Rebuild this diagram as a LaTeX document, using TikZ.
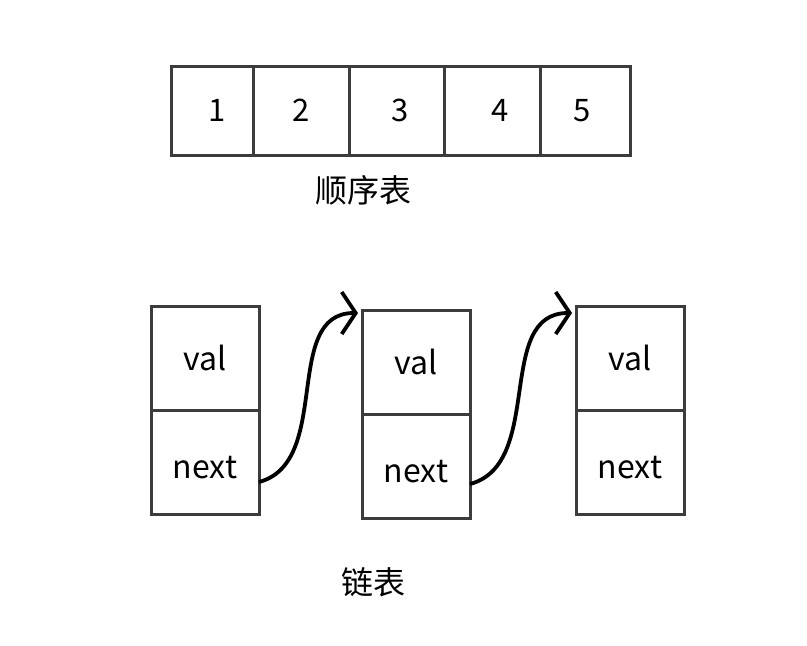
\documentclass[tikz,border=0pt]{standalone}
\usepackage{fontspec}
\setmainfont{Noto Sans CJK SC}
\usetikzlibrary{arrows.meta}
\definecolor{boxgray}{HTML}{3C3C3C}

\tikzset{
  cell/.style={draw=boxgray, line width=3pt, minimum height=89pt, inner sep=0pt, outer sep=0pt, font=\fontsize{31}{36}\selectfont},
  half/.style={draw=boxgray, line width=3pt, minimum width=108pt, minimum height=104pt, inner sep=0pt, outer sep=0pt, font=\fontsize{32}{38}\selectfont},
  lower/.style={half, text height=33pt},
  caption/.style={inner sep=0pt, font=\fontsize{32}{38}\selectfont},
  link/.style={line width=3.8pt, -{Straight Barb[length=14pt,width=42pt]}}
}

\begin{document}
\begin{tikzpicture}[x=1pt, y=-1pt]
  \useasboundingbox (0,0) rectangle (807,646);
  \node[cell, minimum width=82pt] (c1) at (212,110.5) {\hspace*{10pt}1};
  \node[cell, minimum width=96pt] (c2) at (301,110.5) {2};
  \node[cell, minimum width=95pt] (c3) at (396.5,110.5) {\hspace*{7pt}3};
  \node[cell, minimum width=96pt] (c4) at (492,110.5) {\hspace*{16pt}4};
  \node[cell, minimum width=90pt] (c5) at (585,110.5) {5\hspace*{6pt}};
  \node[caption] (arr) at (363,190) {顺序表};

  \node[half] (v1) at (205,358) {val};
  \node[lower, anchor=north] (n1) at (v1.south) {next};
  \node[half] (v2) at (416,362) {val};
  \node[lower, anchor=north] (n2) at (v2.south) {next};
  \node[half] (v3) at (630,358) {val};
  \node[lower, anchor=north] (n3) at (v3.south) {next};
  \draw[link] ([yshift=-20pt]n1.east) to[out=15, in=180] ([xshift=-4pt, yshift=-3pt]v2.north west);
  \draw[link] ([yshift=-18pt]n2.east) to[out=15, in=180] ([xshift=-4pt, yshift=-7pt]v3.north west);
  \node[caption] (lst) at (373,582) {链表};
\end{tikzpicture}
\end{document}
